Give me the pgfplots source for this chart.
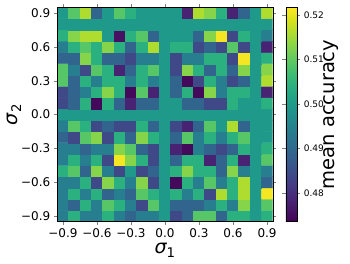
\documentclass[border=0pt]{standalone}
\usepackage{pgfplots}
\pgfplotsset{compat=1.18}
\usepackage{fontspec}
\setmainfont{DejaVu Sans}
\begin{document}
\begin{tikzpicture}
\begin{axis}[
  at={(0,0)}, anchor=south west,
  scale only axis, width=215.4pt, height=214.4pt,
  xmin=-0.95, xmax=0.95, ymin=-0.95, ymax=0.95,
  axis on top,
  tick align=outside, major tick length=3.5pt,
  xtick={-0.9,-0.6,-0.3,0,0.3,0.6,0.9},
  xticklabels={−0.9,−0.6,−0.3,0.0,0.3,0.6,0.9},
  ytick={-0.9,-0.6,-0.3,0,0.3,0.6,0.9},
  yticklabels={−0.9,−0.6,−0.3,0.0,0.3,0.6,0.9},
  ticklabel style={font=\fontsize{12}{14}\selectfont},
  xlabel={{\itshape σ}\textsubscript{1}},
  ylabel={{\itshape σ}\textsubscript{2}},
  xlabel style={font=\fontsize{19}{22}\selectfont, at={(axis description cs:0.5,-0.132)}, anchor=center},
  ylabel style={font=\fontsize{19}{22}\selectfont, at={(axis description cs:-0.201,0.5)}, anchor=center},
  colormap/viridis,
  colorbar,
  point meta min=0.4735, point meta max=0.5217,
  colorbar style={
    at={(parent axis.north east)}, anchor=north west, xshift=4.6pt,
    width=11pt,
    ytick={0.48,0.49,0.50,0.51,0.52},
    yticklabels={0.48,0.49,0.50,0.51,0.52},
    yticklabel style={font=\fontsize{9}{11}\selectfont},
    ylabel={mean accuracy},
    ylabel style={font=\fontsize{19.5}{22}\selectfont, at={(axis description cs:4.15,0.5)}, anchor=center},
    tick align=outside, major tick length=3.5pt,
  },
]
\addplot[matrix plot*, mesh/cols=19, mesh/rows=19, point meta=explicit] table[row sep=\\, meta=c] {
x y c\\
-0.9 -0.9 .494\\ -0.8 -0.9 .504\\ -0.7 -0.9 .494\\ -0.6 -0.9 .494\\ -0.5 -0.9 .504\\ -0.4 -0.9 .494\\ -0.3 -0.9 .489\\ -0.2 -0.9 .494\\ -0.1 -0.9 .494\\ 0 -0.9 .4995\\ 0.1 -0.9 .484\\ 0.2 -0.9 .489\\ 0.3 -0.9 .509\\ 0.4 -0.9 .509\\ 0.5 -0.9 .489\\ 0.6 -0.9 .504\\ 0.7 -0.9 .504\\ 0.8 -0.9 .4995\\ 0.9 -0.9 .504\\
-0.9 -0.8 .494\\ -0.8 -0.8 .489\\ -0.7 -0.8 .504\\ -0.6 -0.8 .494\\ -0.5 -0.8 .509\\ -0.4 -0.8 .504\\ -0.3 -0.8 .494\\ -0.2 -0.8 .484\\ -0.1 -0.8 .509\\ 0 -0.8 .4995\\ 0.1 -0.8 .489\\ 0.2 -0.8 .489\\ 0.3 -0.8 .489\\ 0.4 -0.8 .494\\ 0.5 -0.8 .504\\ 0.6 -0.8 .494\\ 0.7 -0.8 .513\\ 0.8 -0.8 .4995\\ 0.9 -0.8 .509\\
-0.9 -0.7 .494\\ -0.8 -0.7 .504\\ -0.7 -0.7 .494\\ -0.6 -0.7 .504\\ -0.5 -0.7 .489\\ -0.4 -0.7 .494\\ -0.3 -0.7 .489\\ -0.2 -0.7 .509\\ -0.1 -0.7 .504\\ 0 -0.7 .4995\\ 0.1 -0.7 .504\\ 0.2 -0.7 .494\\ 0.3 -0.7 .504\\ 0.4 -0.7 .484\\ 0.5 -0.7 .516\\ 0.6 -0.7 .504\\ 0.7 -0.7 .516\\ 0.8 -0.7 .4995\\ 0.9 -0.7 .521\\
-0.9 -0.6 .494\\ -0.8 -0.6 .494\\ -0.7 -0.6 .504\\ -0.6 -0.6 .484\\ -0.5 -0.6 .513\\ -0.4 -0.6 .504\\ -0.3 -0.6 .494\\ -0.2 -0.6 .513\\ -0.1 -0.6 .484\\ 0 -0.6 .4995\\ 0.1 -0.6 .4745\\ 0.2 -0.6 .504\\ 0.3 -0.6 .494\\ 0.4 -0.6 .509\\ 0.5 -0.6 .494\\ 0.6 -0.6 .504\\ 0.7 -0.6 .516\\ 0.8 -0.6 .4995\\ 0.9 -0.6 .489\\
-0.9 -0.5 .504\\ -0.8 -0.5 .509\\ -0.7 -0.5 .489\\ -0.6 -0.5 .513\\ -0.5 -0.5 .494\\ -0.4 -0.5 .484\\ -0.3 -0.5 .4995\\ -0.2 -0.5 .484\\ -0.1 -0.5 .489\\ 0 -0.5 .4995\\ 0.1 -0.5 .504\\ 0.2 -0.5 .513\\ 0.3 -0.5 .504\\ 0.4 -0.5 .504\\ 0.5 -0.5 .489\\ 0.6 -0.5 .513\\ 0.7 -0.5 .494\\ 0.8 -0.5 .4995\\ 0.9 -0.5 .494\\
-0.9 -0.4 .494\\ -0.8 -0.4 .504\\ -0.7 -0.4 .494\\ -0.6 -0.4 .504\\ -0.5 -0.4 .484\\ -0.4 -0.4 .521\\ -0.3 -0.4 .513\\ -0.2 -0.4 .504\\ -0.1 -0.4 .484\\ 0 -0.4 .4995\\ 0.1 -0.4 .489\\ 0.2 -0.4 .504\\ 0.3 -0.4 .504\\ 0.4 -0.4 .478\\ 0.5 -0.4 .489\\ 0.6 -0.4 .504\\ 0.7 -0.4 .478\\ 0.8 -0.4 .4995\\ 0.9 -0.4 .509\\
-0.9 -0.3 .494\\ -0.8 -0.3 .494\\ -0.7 -0.3 .489\\ -0.6 -0.3 .494\\ -0.5 -0.3 .494\\ -0.4 -0.3 .513\\ -0.3 -0.3 .509\\ -0.2 -0.3 .489\\ -0.1 -0.3 .484\\ 0 -0.3 .4995\\ 0.1 -0.3 .478\\ 0.2 -0.3 .4745\\ 0.3 -0.3 .494\\ 0.4 -0.3 .489\\ 0.5 -0.3 .484\\ 0.6 -0.3 .489\\ 0.7 -0.3 .504\\ 0.8 -0.3 .4995\\ 0.9 -0.3 .504\\
-0.9 -0.2 .489\\ -0.8 -0.2 .484\\ -0.7 -0.2 .509\\ -0.6 -0.2 .513\\ -0.5 -0.2 .484\\ -0.4 -0.2 .504\\ -0.3 -0.2 .489\\ -0.2 -0.2 .513\\ -0.1 -0.2 .504\\ 0 -0.2 .4995\\ 0.1 -0.2 .489\\ 0.2 -0.2 .509\\ 0.3 -0.2 .494\\ 0.4 -0.2 .504\\ 0.5 -0.2 .494\\ 0.6 -0.2 .504\\ 0.7 -0.2 .509\\ 0.8 -0.2 .4995\\ 0.9 -0.2 .4995\\
-0.9 -0.1 .494\\ -0.8 -0.1 .509\\ -0.7 -0.1 .504\\ -0.6 -0.1 .484\\ -0.5 -0.1 .489\\ -0.4 -0.1 .484\\ -0.3 -0.1 .484\\ -0.2 -0.1 .504\\ -0.1 -0.1 .489\\ 0 -0.1 .4995\\ 0.1 -0.1 .484\\ 0.2 -0.1 .478\\ 0.3 -0.1 .489\\ 0.4 -0.1 .509\\ 0.5 -0.1 .4995\\ 0.6 -0.1 .516\\ 0.7 -0.1 .489\\ 0.8 -0.1 .4995\\ 0.9 -0.1 .4995\\
-0.9 0 .4995\\ -0.8 0 .4995\\ -0.7 0 .4995\\ -0.6 0 .4995\\ -0.5 0 .4995\\ -0.4 0 .4995\\ -0.3 0 .4995\\ -0.2 0 .4995\\ -0.1 0 .4995\\ 0 0 .4995\\ 0.1 0 .4995\\ 0.2 0 .4995\\ 0.3 0 .4995\\ 0.4 0 .4995\\ 0.5 0 .4995\\ 0.6 0 .4995\\ 0.7 0 .4995\\ 0.8 0 .4995\\ 0.9 0 .4995\\
-0.9 0.1 .484\\ -0.8 0.1 .489\\ -0.7 0.1 .504\\ -0.6 0.1 .4745\\ -0.5 0.1 .504\\ -0.4 0.1 .489\\ -0.3 0.1 .478\\ -0.2 0.1 .489\\ -0.1 0.1 .489\\ 0 0.1 .4995\\ 0.1 0.1 .4995\\ 0.2 0.1 .489\\ 0.3 0.1 .489\\ 0.4 0.1 .484\\ 0.5 0.1 .484\\ 0.6 0.1 .504\\ 0.7 0.1 .4995\\ 0.8 0.1 .4995\\ 0.9 0.1 .504\\
-0.9 0.2 .484\\ -0.8 0.2 .489\\ -0.7 0.2 .494\\ -0.6 0.2 .504\\ -0.5 0.2 .513\\ -0.4 0.2 .504\\ -0.3 0.2 .4745\\ -0.2 0.2 .509\\ -0.1 0.2 .478\\ 0 0.2 .4995\\ 0.1 0.2 .489\\ 0.2 0.2 .504\\ 0.3 0.2 .4745\\ 0.4 0.2 .513\\ 0.5 0.2 .494\\ 0.6 0.2 .504\\ 0.7 0.2 .504\\ 0.8 0.2 .4995\\ 0.9 0.2 .478\\
-0.9 0.3 .509\\ -0.8 0.3 .489\\ -0.7 0.3 .504\\ -0.6 0.3 .494\\ -0.5 0.3 .504\\ -0.4 0.3 .504\\ -0.3 0.3 .494\\ -0.2 0.3 .504\\ -0.1 0.3 .494\\ 0 0.3 .4995\\ 0.1 0.3 .489\\ 0.2 0.3 .4745\\ 0.3 0.3 .484\\ 0.4 0.3 .504\\ 0.5 0.3 .494\\ 0.6 0.3 .484\\ 0.7 0.3 .489\\ 0.8 0.3 .4995\\ 0.9 0.3 .516\\
-0.9 0.4 .509\\ -0.8 0.4 .494\\ -0.7 0.4 .484\\ -0.6 0.4 .509\\ -0.5 0.4 .504\\ -0.4 0.4 .478\\ -0.3 0.4 .489\\ -0.2 0.4 .504\\ -0.1 0.4 .509\\ 0 0.4 .4995\\ 0.1 0.4 .484\\ 0.2 0.4 .513\\ 0.3 0.4 .504\\ 0.4 0.4 .489\\ 0.5 0.4 .504\\ 0.6 0.4 .489\\ 0.7 0.4 .513\\ 0.8 0.4 .4995\\ 0.9 0.4 .513\\
-0.9 0.5 .489\\ -0.8 0.5 .489\\ -0.7 0.5 .513\\ -0.6 0.5 .504\\ -0.5 0.5 .489\\ -0.4 0.5 .489\\ -0.3 0.5 .484\\ -0.2 0.5 .494\\ -0.1 0.5 .494\\ 0 0.5 .4995\\ 0.1 0.5 .484\\ 0.2 0.5 .494\\ 0.3 0.5 .494\\ 0.4 0.5 .504\\ 0.5 0.5 .504\\ 0.6 0.5 .484\\ 0.7 0.5 .521\\ 0.8 0.5 .4995\\ 0.9 0.5 .504\\
-0.9 0.6 .494\\ -0.8 0.6 .504\\ -0.7 0.6 .509\\ -0.6 0.6 .504\\ -0.5 0.6 .513\\ -0.4 0.6 .504\\ -0.3 0.6 .489\\ -0.2 0.6 .504\\ -0.1 0.6 .516\\ 0 0.6 .4995\\ 0.1 0.6 .504\\ 0.2 0.6 .504\\ 0.3 0.6 .484\\ 0.4 0.6 .489\\ 0.5 0.6 .484\\ 0.6 0.6 .509\\ 0.7 0.6 .484\\ 0.8 0.6 .4995\\ 0.9 0.6 .478\\
-0.9 0.7 .504\\ -0.8 0.7 .513\\ -0.7 0.7 .516\\ -0.6 0.7 .516\\ -0.5 0.7 .4995\\ -0.4 0.7 .4755\\ -0.3 0.7 .504\\ -0.2 0.7 .509\\ -0.1 0.7 .489\\ 0 0.7 .4995\\ 0.1 0.7 .4995\\ 0.2 0.7 .4995\\ 0.3 0.7 .489\\ 0.4 0.7 .513\\ 0.5 0.7 .521\\ 0.6 0.7 .484\\ 0.7 0.7 .504\\ 0.8 0.7 .4995\\ 0.9 0.7 .494\\
-0.9 0.8 .4995\\ -0.8 0.8 .4995\\ -0.7 0.8 .4995\\ -0.6 0.8 .4995\\ -0.5 0.8 .4995\\ -0.4 0.8 .4995\\ -0.3 0.8 .4995\\ -0.2 0.8 .4995\\ -0.1 0.8 .4995\\ 0 0.8 .4995\\ 0.1 0.8 .4995\\ 0.2 0.8 .4995\\ 0.3 0.8 .4995\\ 0.4 0.8 .4995\\ 0.5 0.8 .4995\\ 0.6 0.8 .4995\\ 0.7 0.8 .4995\\ 0.8 0.8 .4995\\ 0.9 0.8 .4995\\
-0.9 0.9 .4995\\ -0.8 0.9 .509\\ -0.7 0.9 .516\\ -0.6 0.9 .489\\ -0.5 0.9 .4995\\ -0.4 0.9 .509\\ -0.3 0.9 .504\\ -0.2 0.9 .4995\\ -0.1 0.9 .4995\\ 0 0.9 .4995\\ 0.1 0.9 .4995\\ 0.2 0.9 .478\\ 0.3 0.9 .516\\ 0.4 0.9 .513\\ 0.5 0.9 .504\\ 0.6 0.9 .478\\ 0.7 0.9 .489\\ 0.8 0.9 .4995\\ 0.9 0.9 .516\\
};
\end{axis}
\pgfresetboundingbox
\useasboundingbox (-57.3pt,-42.3pt) rectangle (292.7pt,221.7pt);
\end{tikzpicture}
\end{document}
